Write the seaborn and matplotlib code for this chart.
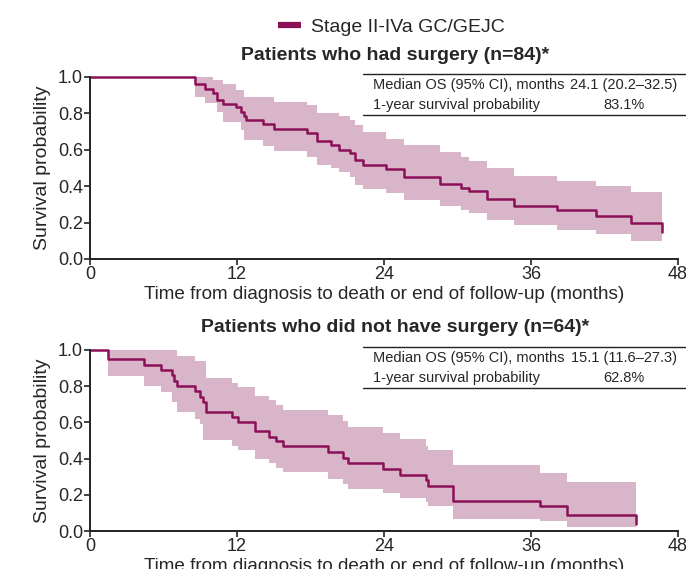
import matplotlib
matplotlib.use('Agg')
import matplotlib.pyplot as plt
from matplotlib.lines import Line2D
import pandas as pd
import seaborn as sns

LINE_COL = '#8B1058'
BAND_COL = '#D8B5C8'

# patients who had surgery (n=84): event times (months) and KM estimate
surg_time = [0, 8.57, 9.39, 10.07, 10.34, 10.83, 11.92, 12.3, 12.57, 12.73, 14.1, 15.05,
             17.7, 18.5, 19.7, 20.3, 21.2, 21.6, 22.3, 24.2, 25.6, 28.6, 30.3, 30.9,
             32.4, 34.6, 38.1, 41.3, 44.2, 46.7]
surg_surv = [1.0, 0.961, 0.932, 0.91, 0.873, 0.851, 0.833, 0.809, 0.785, 0.763, 0.741, 0.713,
             0.693, 0.649, 0.625, 0.60, 0.58, 0.543, 0.519, 0.497, 0.45, 0.41, 0.39, 0.374,
             0.33, 0.29, 0.267, 0.238, 0.197, 0.147]
# 95% CI, from the first event on
surg_low = [0.891, 0.858, 0.858, 0.809, 0.754, 0.754, 0.708, 0.653, 0.653, 0.62, 0.594,
            0.561, 0.515, 0.50, 0.478, 0.45, 0.405, 0.387, 0.36, 0.326, 0.29, 0.267, 0.25,
            0.216, 0.185, 0.16, 0.135, 0.10, 0.10]
surg_high = [1.0, 1.0, 0.983, 0.983, 0.96, 0.93, 0.93, 0.888, 0.888, 0.888, 0.864,
             0.846, 0.80, 0.80, 0.785, 0.763, 0.735, 0.70, 0.66, 0.625, 0.59, 0.56, 0.54,
             0.50, 0.455, 0.43, 0.40, 0.37, 0.37]

# patients who did not have surgery (n=64)
nosurg_time = [0, 1.5, 4.41, 5.8, 6.66, 6.88, 7.13, 8.57, 8.98, 9.25, 9.47, 11.56, 12.05,
               13.45, 14.58, 15.15, 15.73, 19.45, 20.64, 21.1, 23.9, 25.3, 27.4, 27.6,
               29.6, 36.7, 38.96, 44.57]
nosurg_surv = [1.0, 0.95, 0.919, 0.89, 0.862, 0.83, 0.803, 0.772, 0.743, 0.711, 0.658,
               0.628, 0.60, 0.551, 0.522, 0.495, 0.467, 0.435, 0.405, 0.374, 0.344, 0.311,
               0.28, 0.246, 0.165, 0.136, 0.09, 0.04]
nosurg_low = [0.858, 0.803, 0.766, 0.711, 0.711, 0.656, 0.62, 0.59, 0.504, 0.504, 0.472,
              0.445, 0.40, 0.375, 0.35, 0.325, 0.289, 0.261, 0.234, 0.21, 0.184, 0.16,
              0.136, 0.068, 0.055, 0.022, 0.022]
nosurg_high = [1.0, 1.0, 1.0, 1.0, 1.0, 0.968, 0.937, 0.937, 0.937, 0.846, 0.82, 0.798,
               0.748, 0.724, 0.698, 0.669, 0.64, 0.606, 0.577, 0.54, 0.509, 0.472, 0.445,
               0.362, 0.322, 0.27, 0.27]

titles = ['Patients who had surgery (n=84)*', 'Patients who did not have surgery (n=64)*']
table_rows = [
    [('Median OS (95% CI), months', '24.1 (20.2\u201332.5)'), ('1-year survival probability', '83.1%')],
    [('Median OS (95% CI), months', '15.1 (11.6\u201327.3)'), ('1-year survival probability', '62.8%')],
]
x_ticks = [0, 12, 24, 36, 48]
y_ticks = [0.0, 0.2, 0.4, 0.6, 0.8, 1.0]

sns.set_style('ticks')
plt.rcParams['font.family'] = ['Liberation Sans', 'DejaVu Sans']

W, H = 686, 569
fig = plt.figure(figsize=(W / 100, H / 100), dpi=100)


def px(x, y):
    return x / W, 1 - y / H


panels = [
    (surg_time, surg_surv, surg_low, surg_high, 77, 259),
    (nosurg_time, nosurg_surv, nosurg_low, nosurg_high, 350, 531),
]

for i, (t, s, lo, hi, top, bot) in enumerate(panels):
    ax = fig.add_axes([90 / W, 1 - bot / H, 588 / W, (bot - top) / H])
    ax.fill_between(t[1:], lo, hi, step='post', color=BAND_COL, lw=0)
    df = pd.DataFrame({'time': t, 'surv': s})
    sns.lineplot(data=df, x='time', y='surv', estimator=None, drawstyle='steps-post',
                 color=LINE_COL, lw=1.8, clip_on=False, ax=ax)
    ax.set_xlim(0, 48)
    ax.set_ylim(0, 1.0)
    ax.set_xticks(x_ticks)
    ax.set_yticks(y_ticks)
    ax.set_yticklabels([f'{v:.1f}' for v in y_ticks])
    ax.tick_params(labelsize=13, length=4, width=1.2, color='#222222', pad=1)
    for side in ['left', 'bottom']:
        ax.spines[side].set_linewidth(1.4)
        ax.spines[side].set_color('#222222')
    sns.despine(ax=ax)
    ax.set_xlabel('Time from diagnosis to death or end of follow-up (months)', fontsize=13.6, labelpad=2)
    ax.set_ylabel('Survival probability', fontsize=14, labelpad=5)

    # title
    tx, ty = px(395, top - 22)
    fig.text(tx, ty, titles[i], ha='center', va='center', fontsize=14, fontweight='bold')

    # small table in the upper right
    y0 = top - 3
    for yy in (y0, y0 + 41):
        fig.add_artist(Line2D([363 / W, 1.0], [1 - yy / H, 1 - yy / H], color='#222222', lw=1.0))
    for r, (lab, val) in enumerate(table_rows[i]):
        ry = y0 + 11 + r * 20
        fig.text(373 / W, 1 - ry / H, lab, ha='left', va='center', fontsize=10.5)
        fig.text(624 / W, 1 - ry / H, val, ha='center', va='center', fontsize=10.5)

lx, ly = px(391, 27)
fig.legend(handles=[Line2D([], [], color=LINE_COL, lw=4.5, solid_capstyle='butt')],
           labels=['Stage II-IVa GC/GEJC'],
           loc='center', bbox_to_anchor=(lx, ly), frameon=False, fontsize=14,
           handlelength=1.2, handletextpad=0.5)

fig.savefig('out.png', dpi=100)
